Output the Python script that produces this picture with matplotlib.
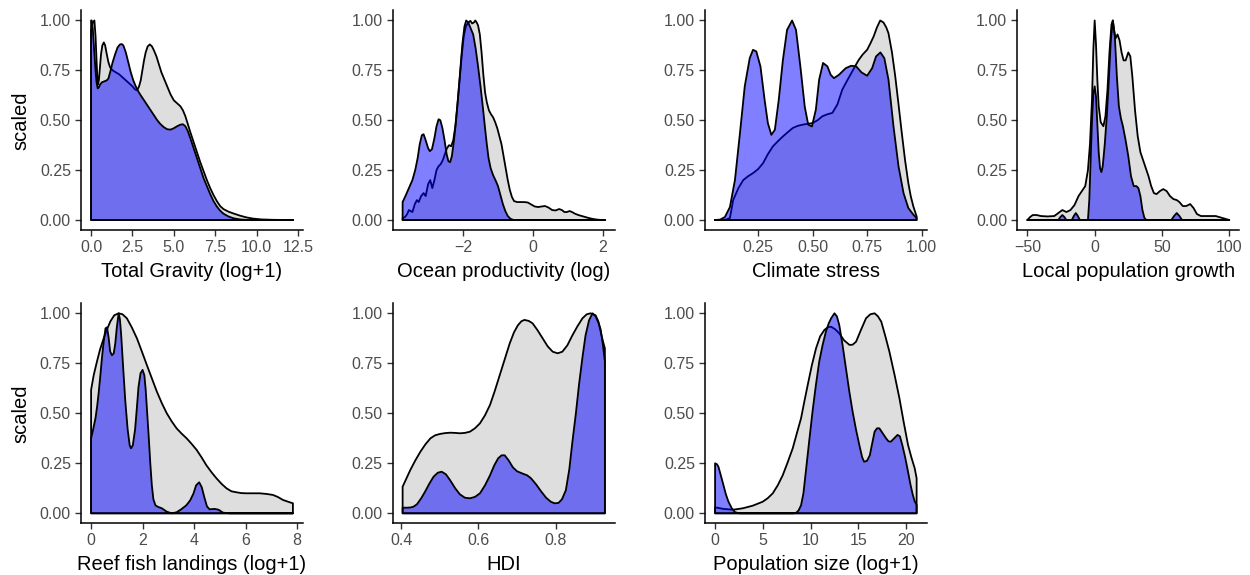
import numpy as np
import matplotlib
matplotlib.use("Agg")
import matplotlib.pyplot as plt

plt.rcParams['font.family'] = ['Liberation Sans', 'DejaVu Sans']

# ---- Scaled densities: grey = all sites, blue = subset ----
# Total Gravity (log+1)
grav_grey_x = [0, 0.1, 0.2, 0.27, 0.33, 0.38, 0.42, 0.47, 0.53, 0.6, 0.68, 0.77, 0.85, 0.95, 1.05, 1.15, 1.3, 1.5, 1.7,
               1.9, 2.1, 2.3, 2.5, 2.65, 2.78, 2.9, 3.0, 3.1, 3.2, 3.3, 3.42, 3.55, 3.68, 3.8, 3.95, 4.1, 4.25, 4.4, 4.6,
               4.8, 5.0, 5.2, 5.4, 5.55, 5.7, 5.85, 6.0, 6.2, 6.4, 6.6, 6.8, 7.0, 7.2, 7.4, 7.6, 7.8, 8.0, 8.3, 8.6,
               9.0, 9.4, 9.8, 10.3, 11.0, 12.2]
grav_grey_y = [0.95, 0.99, 1.0, 0.92, 0.80, 0.71, 0.68, 0.70, 0.76, 0.83, 0.875, 0.89, 0.875, 0.83, 0.79, 0.765, 0.75,
               0.74, 0.73, 0.715, 0.70, 0.685, 0.67, 0.655, 0.65, 0.67, 0.70, 0.75, 0.80, 0.84, 0.87, 0.88, 0.87, 0.85,
               0.82, 0.78, 0.74, 0.71, 0.67, 0.63, 0.60, 0.585, 0.57, 0.55, 0.52, 0.48, 0.44, 0.39, 0.34, 0.29, 0.245,
               0.20, 0.16, 0.125, 0.095, 0.07, 0.055, 0.042, 0.033, 0.022, 0.013, 0.007, 0.003, 0.001, 0.0]
grav_blue_x = [0, 0.04, 0.1, 0.18, 0.26, 0.33, 0.4, 0.47, 0.55, 0.65, 0.8, 0.95, 1.05, 1.15, 1.3, 1.45, 1.6, 1.75, 1.85,
               1.95, 2.1, 2.25, 2.4, 2.55, 2.7, 2.85, 3.0, 3.2, 3.4, 3.6, 3.8, 4.0, 4.2, 4.4, 4.6, 4.8, 5.0, 5.2, 5.4,
               5.55, 5.7, 5.85, 6.0, 6.2, 6.4, 6.6, 6.8, 7.0, 7.2, 7.4, 7.6, 7.8, 8.0, 8.3, 8.6, 9.0, 9.5, 12.2]
grav_blue_y = [1.0, 1.0, 0.96, 0.86, 0.76, 0.69, 0.66, 0.665, 0.68, 0.69, 0.695, 0.70, 0.71, 0.74, 0.79, 0.83, 0.865,
               0.88, 0.882, 0.875, 0.84, 0.79, 0.74, 0.70, 0.67, 0.645, 0.625, 0.60, 0.575, 0.55, 0.525, 0.50, 0.48,
               0.465, 0.455, 0.453, 0.46, 0.47, 0.478, 0.48, 0.47, 0.445, 0.41, 0.36, 0.31, 0.26, 0.21, 0.17, 0.13,
               0.095, 0.068, 0.047, 0.032, 0.018, 0.009, 0.003, 0.0, 0.0]

# Ocean productivity (log)
ocean_grey_x = [-3.73, -3.66, -3.6, -3.55, -3.5, -3.45, -3.38, -3.32, -3.27, -3.2, -3.13, -3.07, -3.0, -2.94, -2.88,
                -2.82, -2.76, -2.7, -2.64, -2.58, -2.52, -2.46, -2.4, -2.34, -2.28, -2.22, -2.16, -2.1, -2.04, -1.98,
                -1.92, -1.85, -1.79, -1.74, -1.69, -1.65, -1.61, -1.57, -1.52, -1.47, -1.42, -1.37, -1.32, -1.26, -1.2,
                -1.14, -1.08, -1.02, -0.96, -0.9, -0.84, -0.78, -0.72, -0.66, -0.6, -0.54, -0.45, -0.35, -0.25, -0.15,
                -0.05, 0.05, 0.15, 0.25, 0.35, 0.45, 0.55, 0.65, 0.75, 0.83, 0.9, 0.97, 1.05, 1.12, 1.2, 1.3, 1.4, 1.5,
                1.6, 1.7, 1.8, 1.9, 2.06]
ocean_grey_y = [0.01, 0.015, 0.03, 0.05, 0.045, 0.04, 0.08, 0.10, 0.09, 0.12, 0.135, 0.12, 0.18, 0.20, 0.16, 0.20, 0.25,
                0.27, 0.28, 0.30, 0.33, 0.36, 0.375, 0.37, 0.40, 0.47, 0.58, 0.70, 0.82, 0.92, 0.97, 0.99, 0.998, 0.985,
                0.99, 1.0, 0.99, 0.975, 0.93, 0.84, 0.73, 0.64, 0.59, 0.55, 0.53, 0.515, 0.49, 0.46, 0.42, 0.38, 0.32,
                0.26, 0.20, 0.15, 0.115, 0.095, 0.09, 0.09, 0.09, 0.088, 0.078, 0.068, 0.065, 0.068, 0.07, 0.062, 0.05,
                0.048, 0.055, 0.05, 0.04, 0.04, 0.045, 0.04, 0.032, 0.025, 0.02, 0.015, 0.01, 0.006, 0.003, 0.001, 0.0]
ocean_blue_x = [-3.73, -3.65, -3.55, -3.45, -3.37, -3.3, -3.24, -3.18, -3.13, -3.07, -3.0, -2.95, -2.89, -2.82, -2.76,
                -2.7, -2.65, -2.59, -2.53, -2.47, -2.42, -2.37, -2.32, -2.26, -2.2, -2.14, -2.08, -2.02, -1.96, -1.91,
                -1.85, -1.78, -1.71, -1.64, -1.57, -1.5, -1.43, -1.37, -1.32, -1.27, -1.21, -1.14, -1.06, -1.0, -0.93,
                -0.86, -0.79, -0.72, -0.64, -0.55, 2.06]
ocean_blue_y = [0.09, 0.12, 0.16, 0.20, 0.25, 0.31, 0.38, 0.425, 0.43, 0.40, 0.36, 0.345, 0.355, 0.41, 0.47, 0.505, 0.50,
                0.46, 0.40, 0.33, 0.295, 0.29, 0.32, 0.40, 0.50, 0.62, 0.75, 0.88, 0.97, 1.0, 0.99, 0.96, 0.93, 0.86,
                0.77, 0.67, 0.56, 0.46, 0.38, 0.31, 0.26, 0.225, 0.195, 0.17, 0.125, 0.08, 0.045, 0.02, 0.006, 0.0, 0.0]

# Climate stress
clim_grey_x = [0.053, 0.09, 0.106, 0.121, 0.136, 0.16, 0.182, 0.205, 0.227, 0.25, 0.273, 0.295, 0.318, 0.341, 0.364,
               0.386, 0.409, 0.432, 0.455, 0.477, 0.5, 0.523, 0.545, 0.568, 0.591, 0.614, 0.636, 0.659, 0.682, 0.697,
               0.712, 0.73, 0.75, 0.765, 0.78, 0.795, 0.81, 0.825, 0.838, 0.848, 0.864, 0.879, 0.894, 0.909, 0.924,
               0.939, 0.95, 0.962, 0.977]
clim_grey_y = [0.0, 0.0, 0.003, 0.01, 0.10, 0.16, 0.20, 0.22, 0.235, 0.255, 0.285, 0.33, 0.369, 0.395, 0.419, 0.44,
               0.461, 0.472, 0.478, 0.482, 0.486, 0.50, 0.52, 0.53, 0.537, 0.58, 0.653, 0.70, 0.745, 0.775, 0.803,
               0.83, 0.853, 0.885, 0.92, 0.965, 1.0, 0.99, 0.965, 0.936, 0.84, 0.72, 0.58, 0.436, 0.30, 0.185, 0.12,
               0.068, 0.018]
clim_blue_x = [0.053, 0.076, 0.098, 0.121, 0.144, 0.167, 0.189, 0.212, 0.227, 0.242, 0.261, 0.28, 0.295, 0.311, 0.327,
               0.345, 0.364, 0.383, 0.406, 0.424, 0.444, 0.464, 0.48, 0.497, 0.515, 0.53, 0.548, 0.568, 0.583, 0.598,
               0.621, 0.652, 0.677, 0.70, 0.724, 0.75, 0.773, 0.791, 0.811, 0.829, 0.848, 0.871, 0.894, 0.917, 0.939,
               0.962, 0.977]
clim_blue_y = [0.0, 0.002, 0.015, 0.065, 0.20, 0.435, 0.67, 0.812, 0.853, 0.845, 0.77, 0.603, 0.486, 0.427, 0.452, 0.603,
               0.803, 0.953, 1.0, 0.953, 0.77, 0.569, 0.478, 0.469, 0.553, 0.703, 0.787, 0.77, 0.728, 0.711, 0.728,
               0.761, 0.773, 0.77, 0.74, 0.723, 0.761, 0.82, 0.84, 0.811, 0.703, 0.469, 0.269, 0.135, 0.06, 0.027, 0.01]

# Local population growth
growth_grey_x = [-50, -48, -46, -43, -40, -35, -30, -27, -24, -21, -18, -15, -12, -9, -7, -5, -3.5, -2, -1, 0, 1, 2, 3,
                 4.5, 6.5, 8, 9.5, 11, 12.5, 13.5, 14.5, 15.5, 17, 18.5, 20, 21.5, 23, 25, 26.5, 28, 30, 32, 34, 36, 38,
                 40, 42, 44, 46, 48.5, 51, 53.5, 56, 58.5, 61, 63, 65.5, 68, 71, 73.5, 76, 79, 84, 90, 95, 100]
growth_grey_y = [0.0, 0.015, 0.025, 0.025, 0.02, 0.018, 0.02, 0.035, 0.05, 0.04, 0.05, 0.075, 0.12, 0.15, 0.17, 0.25,
                 0.38, 0.60, 0.85, 1.0, 0.88, 0.70, 0.57, 0.49, 0.47, 0.52, 0.65, 0.84, 0.98, 1.0, 0.95, 0.91, 0.93,
                 0.90, 0.84, 0.80, 0.80, 0.84, 0.82, 0.72, 0.55, 0.42, 0.34, 0.30, 0.26, 0.22, 0.17, 0.135, 0.13, 0.145,
                 0.155, 0.145, 0.12, 0.105, 0.10, 0.09, 0.07, 0.07, 0.08, 0.06, 0.03, 0.02, 0.02, 0.02, 0.01, 0.0]
growth_blue_x = [-50, -27, -25.5, -24, -22.5, -21, -17, -15.5, -14, -12.5, -11, -5, -4, -3, -2, -1, 0, 1, 2, 3, 4, 5, 6,
                 7.5, 9, 10.5, 12, 13.5, 15, 16.5, 18, 19.5, 21, 23, 25, 27, 29, 31, 32.5, 34, 35.5, 37, 38.5, 57, 59,
                 61, 63, 65, 100]
growth_blue_y = [0.0, 0.0, 0.015, 0.025, 0.015, 0.0, 0.0, 0.02, 0.035, 0.02, 0.0, 0.0, 0.10, 0.30, 0.50, 0.63, 0.67,
                 0.62, 0.48, 0.34, 0.26, 0.24, 0.27, 0.38, 0.52, 0.70, 0.90, 1.0, 0.92, 0.72, 0.57, 0.51, 0.47, 0.40,
                 0.32, 0.22, 0.17, 0.17, 0.16, 0.12, 0.05, 0.01, 0.0, 0.0, 0.02, 0.035, 0.02, 0.0, 0.0]

# Reef fish landings (log+1)
reef_grey_x = [0, 0.1, 0.23, 0.35, 0.49, 0.62, 0.75, 0.9, 1.07, 1.22, 1.39, 1.58, 1.78, 1.97, 2.17, 2.36, 2.55, 2.75,
               2.94, 3.13, 3.32, 3.52, 3.71, 3.9, 4.1, 4.29, 4.48, 4.68, 4.87, 5.07, 5.26, 5.45, 5.65, 5.84, 6.03, 6.3,
               6.55, 6.8, 7.06, 7.25, 7.45, 7.65, 7.84]
reef_grey_y = [0.617, 0.69, 0.76, 0.82, 0.875, 0.92, 0.96, 0.99, 1.0, 0.995, 0.975, 0.93, 0.875, 0.81, 0.74, 0.675,
               0.61, 0.55, 0.50, 0.46, 0.425, 0.398, 0.375, 0.348, 0.317, 0.28, 0.24, 0.205, 0.175, 0.147, 0.125, 0.11,
               0.105, 0.101, 0.10, 0.10, 0.10, 0.097, 0.092, 0.082, 0.067, 0.058, 0.05]
reef_blue_x = [0, 0.08, 0.17, 0.24, 0.30, 0.36, 0.42, 0.49, 0.56, 0.62, 0.68, 0.74, 0.81, 0.88, 0.94, 1.0, 1.07, 1.12,
               1.17, 1.25, 1.33, 1.42, 1.5, 1.55, 1.62, 1.71, 1.78, 1.84, 1.92, 2.0, 2.07, 2.12, 2.18, 2.24, 2.3, 2.36,
               2.42, 2.5, 2.6, 2.75, 2.94, 3.13, 3.32, 3.5, 3.7, 3.85, 3.98, 4.08, 4.2, 4.3, 4.4, 4.5, 4.6, 4.8, 4.95,
               5.13, 5.39, 7.84]
reef_blue_y = [0.375, 0.42, 0.475, 0.54, 0.61, 0.69, 0.775, 0.86, 0.925, 0.93, 0.88, 0.81, 0.79, 0.80, 0.85, 0.93, 1.0,
               0.97, 0.89, 0.72, 0.56, 0.42, 0.34, 0.325, 0.34, 0.42, 0.53, 0.63, 0.70, 0.717, 0.69, 0.62, 0.50, 0.38,
               0.25, 0.14, 0.07, 0.04, 0.032, 0.025, 0.008, 0.0, 0.005, 0.02, 0.04, 0.065, 0.10, 0.14, 0.155, 0.13,
               0.08, 0.035, 0.02, 0.022, 0.018, 0.003, 0.0, 0.0]

# HDI
hdi_grey_x = [0.404, 0.414, 0.424, 0.437, 0.45, 0.463, 0.476, 0.488, 0.501, 0.514, 0.527, 0.54, 0.552, 0.565, 0.578,
              0.591, 0.604, 0.617, 0.63, 0.642, 0.655, 0.668, 0.681, 0.692, 0.702, 0.711, 0.719, 0.73, 0.74, 0.753,
              0.766, 0.779, 0.792, 0.805, 0.817, 0.83, 0.843, 0.856, 0.869, 0.88, 0.89, 0.903, 0.91, 0.916, 0.922,
              0.927]
hdi_grey_y = [0.133, 0.175, 0.217, 0.265, 0.308, 0.345, 0.375, 0.39, 0.397, 0.401, 0.403, 0.402, 0.40, 0.402, 0.408,
              0.425, 0.45, 0.49, 0.542, 0.61, 0.69, 0.77, 0.85, 0.905, 0.94, 0.96, 0.967, 0.962, 0.95, 0.915, 0.875,
              0.835, 0.808, 0.80, 0.808, 0.84, 0.89, 0.935, 0.975, 0.995, 1.0, 0.99, 0.96, 0.908, 0.86, 0.825]
hdi_blue_x = [0.404, 0.414, 0.424, 0.432, 0.441, 0.452, 0.462, 0.473, 0.484, 0.495, 0.505, 0.516, 0.527, 0.54, 0.552,
              0.565, 0.578, 0.591, 0.604, 0.617, 0.63, 0.641, 0.651, 0.66, 0.668, 0.678, 0.689, 0.70, 0.715, 0.726,
              0.736, 0.749, 0.762, 0.775, 0.787, 0.797, 0.807, 0.816, 0.826, 0.835, 0.843, 0.852, 0.86, 0.869, 0.877,
              0.886, 0.895, 0.903, 0.911, 0.916, 0.922, 0.927]
hdi_blue_y = [0.028, 0.028, 0.029, 0.033, 0.045, 0.075, 0.108, 0.148, 0.183, 0.203, 0.208, 0.195, 0.165, 0.125, 0.095,
              0.078, 0.075, 0.082, 0.10, 0.14, 0.19, 0.24, 0.275, 0.29, 0.29, 0.265, 0.23, 0.21, 0.198, 0.19, 0.175,
              0.145, 0.11, 0.078, 0.058, 0.05, 0.052, 0.07, 0.115, 0.22, 0.358, 0.50, 0.642, 0.78, 0.89, 0.965, 1.0,
              0.985, 0.95, 0.92, 0.84, 0.76]

# Population size (log+1)
pop_grey_x = [0, 0.87, 1.9, 2.9, 3.94, 4.99, 5.5, 6.04, 6.56, 7.08, 7.6, 8.13, 8.56, 9.0, 9.35, 9.7, 10.13, 10.57, 11.0,
              11.45, 11.8, 12.15, 12.58, 13.0, 13.5, 14.07, 14.4, 14.76, 15.3, 15.8, 16.25, 16.7, 17.05, 17.4, 17.8,
              18.25, 18.8, 19.3, 19.75, 20.2, 20.55, 20.9, 21.1]
pop_grey_y = [0.03, 0.022, 0.018, 0.025, 0.038, 0.058, 0.075, 0.10, 0.14, 0.19, 0.255, 0.325, 0.40, 0.475, 0.56, 0.642,
              0.74, 0.825, 0.885, 0.917, 0.93, 0.933, 0.92, 0.90, 0.865, 0.842, 0.843, 0.858, 0.92, 0.975, 0.995, 1.0,
              0.985, 0.958, 0.89, 0.808, 0.69, 0.575, 0.455, 0.342, 0.28, 0.225, 0.175]
pop_blue_x = [0, 0.2, 0.35, 0.6, 0.87, 1.13, 1.4, 1.75, 2.1, 2.6, 8.2, 8.5, 8.75, 9.0, 9.25, 9.5, 9.85, 10.2, 10.55,
              10.9, 11.25, 11.6, 11.9, 12.15, 12.5, 12.75, 13.0, 13.35, 13.7, 14.05, 14.4, 14.75, 15.1, 15.4, 15.6,
              15.9, 16.2, 16.45, 16.7, 16.95, 17.2, 17.55, 17.9, 18.15, 18.4, 18.75, 19.1, 19.35, 19.6, 19.9, 20.2,
              20.45, 20.7, 20.9, 21.1]
pop_blue_y = [0.25, 0.245, 0.233, 0.19, 0.142, 0.095, 0.058, 0.025, 0.005, 0.0, 0.0, 0.003, 0.015, 0.04, 0.10, 0.208,
              0.36, 0.508, 0.64, 0.758, 0.84, 0.908, 0.95, 0.975, 1.0, 0.985, 0.942, 0.84, 0.725, 0.61, 0.508, 0.42,
              0.342, 0.28, 0.258, 0.262, 0.29, 0.35, 0.408, 0.425, 0.425, 0.40, 0.375, 0.36, 0.358, 0.375, 0.392,
              0.385, 0.342, 0.28, 0.208, 0.145, 0.092, 0.06, 0.042]

panels = [
    ("Total Gravity (log+1)", grav_grey_x, grav_grey_y, grav_blue_x, grav_blue_y,
     [0, 2.5, 5, 7.5, 10, 12.5], ["0.0", "2.5", "5.0", "7.5", "10.0", "12.5"]),
    ("Ocean productivity (log)", ocean_grey_x, ocean_grey_y, ocean_blue_x, ocean_blue_y,
     [-2, 0, 2], ["\u22122", "0", "2"]),
    ("Climate stress", clim_grey_x, clim_grey_y, clim_blue_x, clim_blue_y,
     [0.25, 0.5, 0.75, 1.0], ["0.25", "0.50", "0.75", "1.00"]),
    ("Local population growth", growth_grey_x, growth_grey_y, growth_blue_x, growth_blue_y,
     [-50, 0, 50, 100], ["\u221250", "0", "50", "100"]),
    ("Reef fish landings (log+1)", reef_grey_x, reef_grey_y, reef_blue_x, reef_blue_y,
     [0, 2, 4, 6, 8], ["0", "2", "4", "6", "8"]),
    ("HDI", hdi_grey_x, hdi_grey_y, hdi_blue_x, hdi_blue_y,
     [0.4, 0.6, 0.8], ["0.4", "0.6", "0.8"]),
    ("Population size (log+1)", pop_grey_x, pop_grey_y, pop_blue_x, pop_blue_y,
     [0, 5, 10, 15, 20], ["0", "5", "10", "15", "20"]),
]

y_ticks = [0, 0.25, 0.5, 0.75, 1.0]
y_labels = ["0.00", "0.25", "0.50", "0.75", "1.00"]

W, H = 1250, 575
fig = plt.figure(figsize=(W / 100, H / 100), dpi=100)

col_px = [(81, 303), (392.5, 615), (705, 926.7), (1017.3, 1239.3)]
row_px = [(10.5, 230), (303.3, 523.3)]

LW = 1.3
tick_col = "#333333"
lab_col = "#4D4D4D"


def density_patch(ax, x, y, face):
    x = np.asarray(x, float)
    y = np.asarray(y, float)
    px = np.concatenate([[x[0]], x, [x[-1]]])
    py = np.concatenate([[0.0], y, [0.0]])
    ax.fill(px, py, facecolor=face, edgecolor="black", linewidth=LW, joinstyle="round")


for i, (title, gx, gy, bx, by, xt, xtl) in enumerate(panels):
    r, c = divmod(i, 4)
    l, rr = col_px[c]
    t, b = row_px[r]
    ax = fig.add_axes([l / W, 1 - b / H, (rr - l) / W, (b - t) / H])
    density_patch(ax, gx, gy, (190 / 255, 190 / 255, 190 / 255, 0.5))
    density_patch(ax, bx, by, (0, 0, 1, 0.5))
    xmin, xmax = min(gx[0], bx[0]), max(gx[-1], bx[-1])
    span = xmax - xmin
    ax.set_xlim(xmin - 0.05 * span, xmax + 0.05 * span)
    ax.set_ylim(-0.05, 1.05)
    for s in ("top", "right"):
        ax.spines[s].set_visible(False)
    for s in ("left", "bottom"):
        ax.spines[s].set_linewidth(1.1)
        ax.spines[s].set_color("black")
    ax.set_xticks(xt)
    ax.set_xticklabels(xtl)
    ax.set_yticks(y_ticks)
    ax.set_yticklabels(y_labels)
    ax.tick_params(axis="both", length=4, width=1.0, color=tick_col, labelcolor=lab_col,
                   labelsize=11.5, pad=3.2)
    ax.set_xlabel(title, fontsize=14.5, color="black", labelpad=5)
    if c == 0:
        ax.set_ylabel("scaled", fontsize=14.5, color="black", labelpad=7)

fig.savefig("out.png", dpi=100)
